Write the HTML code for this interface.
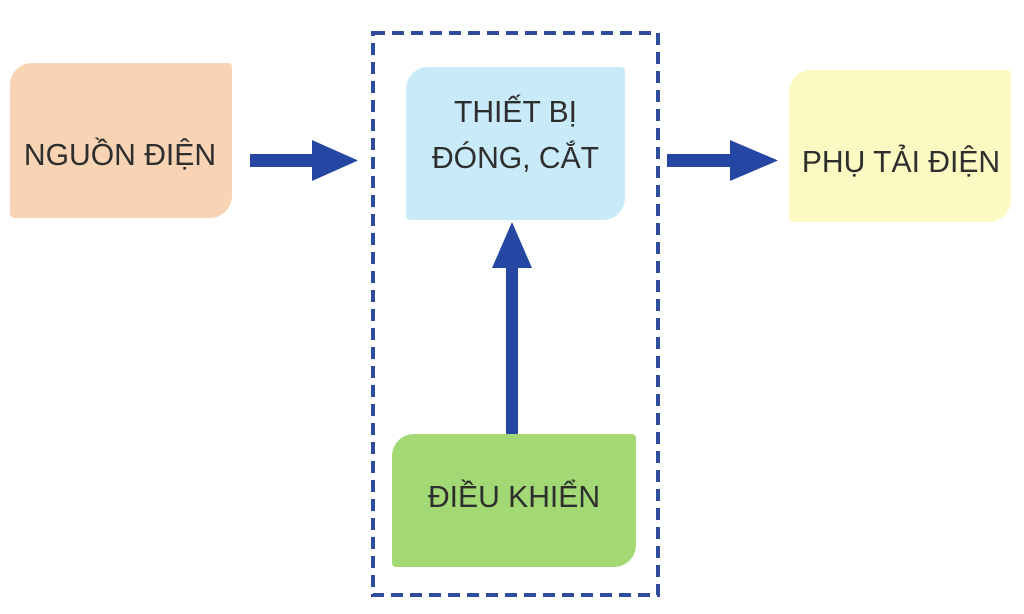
<!DOCTYPE html>
<html><head><meta charset="utf-8"><style>
body{margin:0;width:1024px;height:614px;background:#fff;overflow:hidden;position:relative;font-family:"Liberation Sans",sans-serif;}
.b{position:absolute;border-radius:22px 4px 22px 4px;}
.t{position:absolute;color:#2e2e2e;font-size:31px;line-height:46px;text-align:center;white-space:nowrap;transform:scaleX(0.97);}
</style></head><body>
<div class="b" style="left:10px;top:63px;width:222px;height:155px;background:#f9d4b4;"></div>
<div class="b" style="left:406px;top:67px;width:219px;height:153px;background:#c9ebf9;"></div>
<div class="b" style="left:789px;top:70px;width:222px;height:152px;background:#fdf9c2;"></div>
<div class="b" style="left:392px;top:434px;width:244px;height:133px;background:#a3d975;"></div>
<div class="t" style="left:0;width:240px;top:132px;">NGUỒN ĐIỆN</div>
<div class="t" style="left:396px;width:239px;top:89px;">THIẾT BỊ<br>ĐÓNG, CẮT</div>
<div class="t" style="left:790px;width:222px;top:139px;">PHỤ TẢI ĐIỆN</div>
<div class="t" style="left:392px;width:244px;top:474px;">ĐIỀU KHIỂN</div>
<svg width="1024" height="614" style="position:absolute;left:0;top:0">
<rect x="373" y="33" width="285" height="562" fill="none" stroke="#2f4d9c" stroke-width="4" stroke-dasharray="12,7"/>
<g fill="#2547a3">
<rect x="250" y="154" width="70" height="13"/><polygon points="312,140 358,160.5 312,181"/>
<rect x="667" y="154" width="70" height="13"/><polygon points="730,140 778,160.5 730,181"/>
<rect x="506" y="260" width="12" height="174"/><polygon points="492,268 512,222 532,268"/>
</g>
</svg>
</body></html>
